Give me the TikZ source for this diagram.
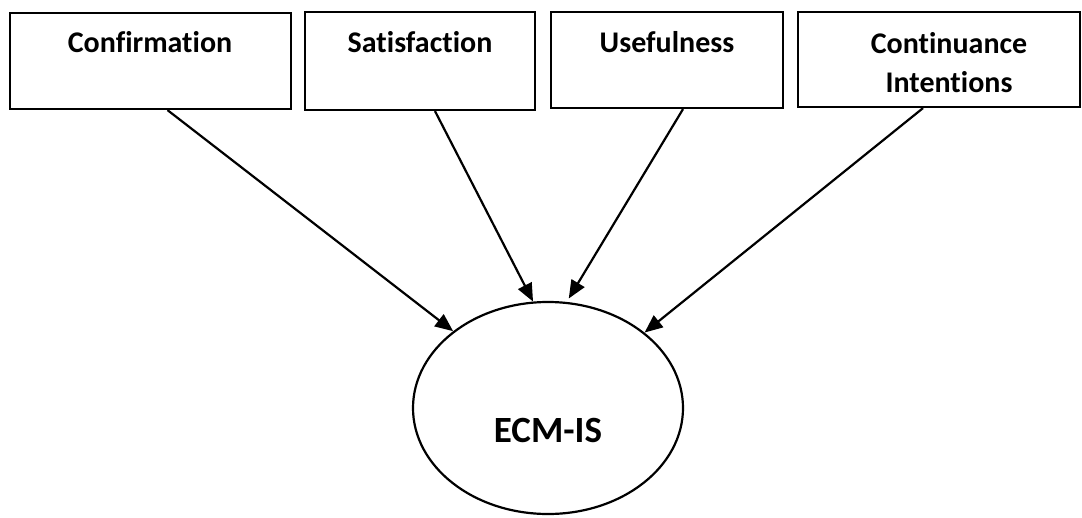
\documentclass[tikz,border=0pt]{standalone}
\usepackage{fontspec}
\setmainfont{Carlito}[Ligatures=CommonOff]
\usetikzlibrary{shapes.geometric,arrows.meta,calc}
\begin{document}
\begin{tikzpicture}[x=1pt,y=-1pt,
  box/.style={draw,line width=2.2pt,inner sep=0pt,rectangle},
  lbl/.style={font=\bfseries\fontsize{30}{39}\selectfont,anchor=base,inner sep=0pt,align=center},
  link/.style={line width=2.2pt,-{Triangle[length=18pt,width=15pt]}}]
\useasboundingbox (0,0) rectangle (1082,517);

% construct boxes
\node[box,minimum width=281pt,minimum height=96pt] (conf) at (150.5,61) {};
\node[box,minimum width=230pt,minimum height=98pt] (sat) at (420,61) {};
\node[box,minimum width=232pt,minimum height=96pt] (use) at (667,60) {};
\node[box,minimum width=282pt,minimum height=95pt] (cont) at (939,59.5) {};

\node[lbl] (confT) at (150,52) {Confirmation};
\node[lbl] (satT) at (420,52) {Satisfaction};
\node[lbl] (useT) at (667,52) {Usefulness};
\node[lbl,anchor=center] (contT) at (949,63) {Continuance\\Intentions};

% target model
\node[draw,ellipse,line width=2.2pt,inner sep=0pt,minimum width=270pt,minimum height=212pt] (ecm) at (548,408) {};
\node[font=\bfseries\fontsize{37}{42}\selectfont,inner sep=0pt] (ecmT) at (548,430) {ECM-IS};

% influences
\draw[link] ([xshift=17pt]conf.south) -- (ecm.141);
\draw[link] ([xshift=15pt]sat.south) -- (ecm.98);
\draw[link,shorten >=4pt] ([xshift=16pt]use.south) -- (ecm.80);
\draw[link] ([xshift=-16pt]cont.south) -- (ecm.38);
\end{tikzpicture}
\end{document}
